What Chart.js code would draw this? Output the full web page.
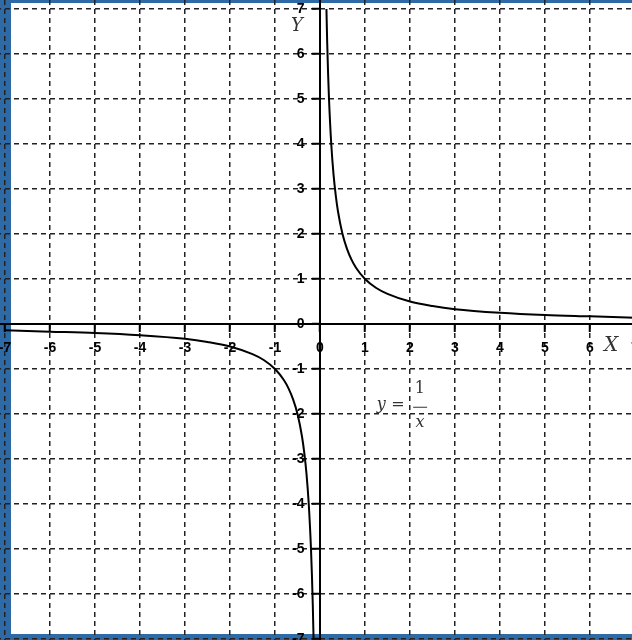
<!DOCTYPE html>
<html>
<head>
<meta charset="utf-8">
<script src="https://cdn.jsdelivr.net/npm/chart.js@4/dist/chart.umd.min.js"></script>
<style>
  html, body { margin: 0; padding: 0; overflow: hidden; }
  #marco { position: relative; width: 632px; height: 640px; overflow: hidden; background: #2e6aa6; }
  #hoja { position: absolute; left: 11px; top: 3px; width: 621px; height: 631px; background: #fff; }
  #grafico { position: absolute; left: -22px; top: -18px; }
</style>
</head>
<body>
<div id="marco">
  <div id="hoja"></div>
  <canvas id="grafico" width="684" height="684"></canvas>
</div>
<script>
// ticks de los ejes
const ticksX = [-7, -6, -5, -4, -3, -2, -1, 0, 1, 2, 3, 4, 5, 6, 7];
const ticksY = [-7, -6, -5, -4, -3, -2, -1, 0, 1, 2, 3, 4, 5, 6, 7];

// rama derecha
const derechaX = [0.143, 0.16, 0.18, 0.2, 0.25, 0.3, 0.35, 0.4, 0.5, 0.6, 0.7, 0.8, 1, 1.25, 1.5, 2, 2.5, 3, 4, 5, 6, 7];
const derechaY = [7, 6.25, 5.56, 5, 4, 3.33, 2.86, 2.5, 2, 1.67, 1.43, 1.25, 1, 0.8, 0.67, 0.5, 0.4, 0.33, 0.25, 0.2, 0.17, 0.14];

// rama izquierda
const izquierdaX = [-7, -6, -5, -4, -3, -2.5, -2, -1.5, -1.25, -1, -0.8, -0.7, -0.6, -0.5, -0.4, -0.35, -0.3, -0.25, -0.2, -0.18, -0.16, -0.143];
const izquierdaY = [-0.14, -0.17, -0.2, -0.25, -0.33, -0.4, -0.5, -0.67, -0.8, -1, -1.25, -1.43, -1.67, -2, -2.5, -2.86, -3.33, -4, -5, -5.56, -6.25, -7];

const puntos = (xs, ys) => xs.map((x, i) => ({ x: x, y: ys[i] }));

const textos = {
  id: "textos",
  afterDraw(chart) {
    const ctx = chart.ctx;
    const sx = chart.scales.x, sy = chart.scales.y;
    const px = v => sx.getPixelForValue(v);
    const py = v => sy.getPixelForValue(v);
    ctx.save();
    ctx.fillStyle = "#333";
    ctx.textAlign = "center";
    ctx.textBaseline = "middle";
    ctx.font = "italic 18px 'DejaVu Serif'";
    ctx.fillText("Y", px(-0.51), py(6.62));
    ctx.font = "italic 20px 'DejaVu Serif'";
    ctx.fillText("X", px(6.47), py(-0.49));
    // formula y = 1/x
    ctx.font = "italic 16px 'DejaVu Serif'";
    ctx.fillText("y", px(1.36), py(-1.8));
    ctx.font = "16px 'DejaVu Serif'";
    ctx.fillText("=", px(1.73), py(-1.8));
    ctx.fillText("1", px(2.22), py(-1.45));
    ctx.font = "italic 16px 'DejaVu Serif'";
    ctx.fillText("x", px(2.22), py(-2.2));
    ctx.strokeStyle = "#333";
    ctx.lineWidth = 1;
    ctx.beginPath();
    ctx.moveTo(px(2.07), py(-1.85));
    ctx.lineTo(px(2.38), py(-1.85));
    ctx.stroke();
    ctx.restore();
  }
};

// sin relleno extra para que el area ocupe todo el canvas
const sinRelleno = s => { s.paddingTop = 0; s.paddingBottom = 0; s.paddingLeft = 0; s.paddingRight = 0; };

const ejeComun = {
  type: "linear",
  min: -7.6,
  max: 7.6,
  grid: {
    color: "#222",
    lineWidth: 1.5,
    drawTicks: true,
    tickLength: 7,
    tickColor: "#000",
    tickWidth: 2,
    tickBorderDash: []
  },
  border: { display: true, color: "#000", width: 2, dash: [5, 4] },
  ticks: {
    color: "#000",
    font: { family: "'Liberation Sans'", size: 14, weight: "bold" },
    autoSkip: false,
    maxRotation: 0
  },
  afterFit: sinRelleno
};

const grafico = new Chart(document.getElementById("grafico"), {
  type: "scatter",
  data: {
    datasets: [
      {
        data: puntos(derechaX, derechaY),
        showLine: true,
        borderColor: "#000",
        borderWidth: 2,
        pointRadius: 0,
        cubicInterpolationMode: "monotone"
      },
      {
        data: puntos(izquierdaX, izquierdaY),
        showLine: true,
        borderColor: "#000",
        borderWidth: 2,
        pointRadius: 0,
        cubicInterpolationMode: "monotone"
      }
    ]
  },
  options: {
    responsive: false,
    animation: false,
    devicePixelRatio: 1,
    layout: { padding: 0 },
    plugins: { legend: { display: false }, tooltip: { enabled: false } },
    scales: {
      x: Object.assign({}, ejeComun, {
        position: { y: 0 },
        ticks: Object.assign({}, ejeComun.ticks, { padding: 9 }),
        afterBuildTicks: s => { s.ticks = ticksX.map(v => ({ value: v })); }
      }),
      y: Object.assign({}, ejeComun, {
        position: { x: 0 },
        ticks: Object.assign({}, ejeComun.ticks, {
          // la etiqueta queda pegada al eje; los espacios la separan
          callback: v => v + "    "
        }),
        afterBuildTicks: s => { s.ticks = ticksY.map(v => ({ value: v })); }
      })
    }
  },
  plugins: [textos]
});
</script>
</body>
</html>
